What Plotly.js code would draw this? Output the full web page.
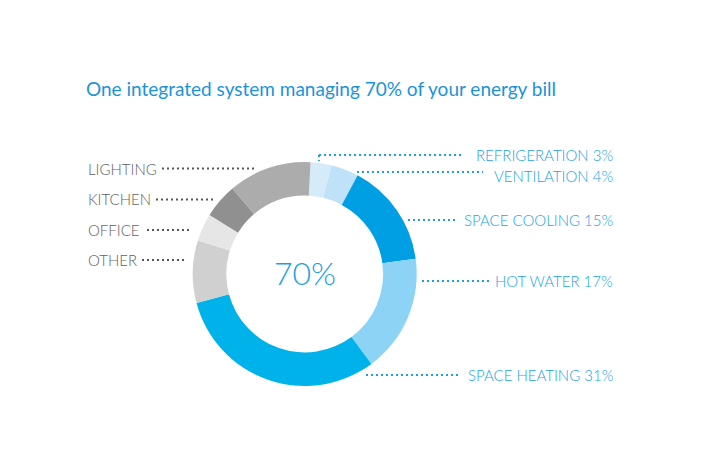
<!DOCTYPE html>
<html><head><meta charset="utf-8">
<script src="https://cdn.plot.ly/plotly-3.0.1.min.js"></script>
<style>html,body{margin:0;padding:0;background:#fff}#chart{width:710px;height:460px}</style>
</head><body><div id="chart"></div>
<script>
// ---- data ----
const categories = ['REFRIGERATION','VENTILATION','SPACE COOLING','HOT WATER','SPACE HEATING','OTHER','OFFICE','KITCHEN','LIGHTING'];
const shares = [3, 4, 15, 17, 31, 9, 4, 5, 12];
const managed = [true, true, true, true, true, false, false, false, false];
const sliceColors = ['#d5ebfa','#bfe2f8','#009fe3','#8dd3f6','#00b2ea','#d0d0d0','#e6e6e6','#909090','#acacac'];
const centerLabel = '70%';
const chartTitle = 'One integrated system managing 70% of your energy bill';

// ---- layout helpers (pixels -> paper) ----
const W = 710, H = 460;
const px = x => x / W, py = y => 1 - y / H;
const cx = 304.7, cy = 274, R = 112;

// label placement: [labelX, labelY, lineX0, lineX1, lineY]
const labelPos = {
  'REFRIGERATION': [615, 155, 319, 463, 155],
  'VENTILATION':   [615, 176, 357, 483, 172],
  'SPACE COOLING': [615, 220, 408, 455, 220],
  'HOT WATER':     [615, 281, 422, 492, 281],
  'SPACE HEATING': [615, 375, 366, 458, 375],
  'LIGHTING':      [86, 169, 162, 256, 168.5],
  'KITCHEN':       [86, 199, 156, 213, 199.5],
  'OFFICE':        [86, 230, 147, 192, 230],
  'OTHER':         [86, 260, 142, 185, 260]
};

const blueText = '#22a4e6', grayText = '#626262';
const font = 'Lato, "Open Sans", sans-serif';

const annotations = [];
const shapes = [];
categories.forEach((c, i) => {
  const p = labelPos[c];
  const isBlue = managed[i];
  annotations.push({
    xref: 'paper', yref: 'paper', x: px(p[0]), y: py(p[1]),
    xanchor: isBlue ? 'right' : 'left', yanchor: 'middle', showarrow: false,
    text: isBlue ? c + ' ' + shares[i] + '%' : c,
    font: {family: font, size: 15, color: isBlue ? blueText : grayText, weight: 300}
  });
  shapes.push({
    type: 'line', xref: 'paper', yref: 'paper',
    x0: px(p[2]), x1: px(p[3]), y0: py(p[4]), y1: py(p[4]),
    line: {color: isBlue ? '#1d9fe2' : '#555555', width: 2, dash: '2px,3px'}
  });
});
// small drop tick for refrigeration leader
shapes.push({type: 'line', xref: 'paper', yref: 'paper', x0: px(319), x1: px(319), y0: py(155), y1: py(161),
  line: {color: '#1d9fe2', width: 2, dash: '2px,3px'}});

annotations.push({
  xref: 'paper', yref: 'paper', x: px(cx), y: py(272), xanchor: 'center', yanchor: 'middle',
  showarrow: false, text: centerLabel,
  font: {family: font, size: 32, color: '#1a9fe3', weight: 300}
});

const trace = {
  type: 'pie', labels: categories, values: shares, sort: false, direction: 'clockwise',
  rotation: 3, hole: 0.70, textinfo: 'none', hoverinfo: 'label+percent',
  marker: {colors: sliceColors, line: {width: 0}},
  domain: {x: [px(cx - R), px(cx + R)], y: [py(cy + R), py(cy - R)]},
  showlegend: false
};

const layout = {
  width: W, height: H, margin: {l: 0, r: 0, t: 0, b: 0},
  paper_bgcolor: '#ffffff', plot_bgcolor: '#ffffff',
  title: {text: chartTitle, x: px(86), xanchor: 'left', y: py(89), yanchor: 'middle',
    font: {family: font, size: 19, color: '#1b93da'}},
  annotations, shapes, showlegend: false
};

Plotly.newPlot('chart', [trace], layout, {displayModeBar: false, staticPlot: true});
</script>
</body></html>
